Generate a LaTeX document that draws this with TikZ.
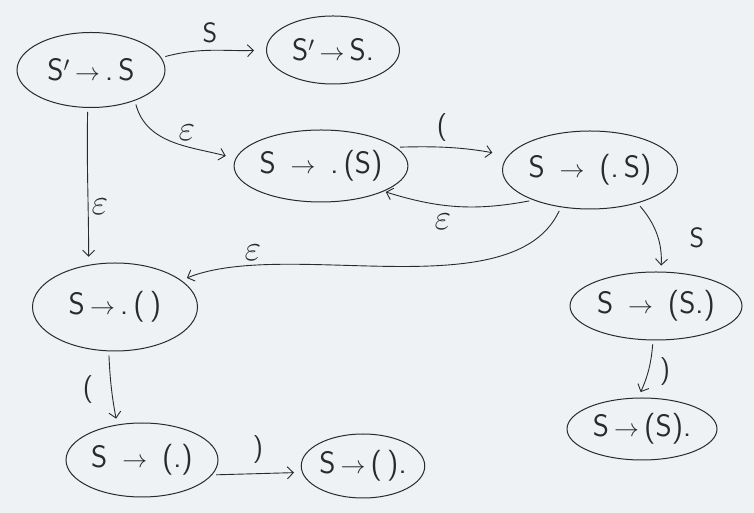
\documentclass[tikz,border=0pt]{standalone}
\usetikzlibrary{shapes.geometric,arrows.meta}
\definecolor{bg}{HTML}{EEF2F4}
\definecolor{ink}{HTML}{2A2A2A}
\newcommand{\ar}{\,$\rightarrow$\,}
\newcommand{\epsl}{\scalebox{1.45}{$\varepsilon$}}
\begin{document}
\begin{tikzpicture}[x=1pt,y=1pt,
  state/.style={ellipse,draw=ink,line width=1pt,inner sep=0pt,text=ink,
    font=\sffamily\fontsize{31}{34}\selectfont},
  tr/.style={draw=ink,line width=0.9pt,-{Straight Barb[length=6pt,width=12pt]},
    shorten <=4pt,shorten >=6pt},
  lab/.style={text=ink,font=\sffamily\fontsize{28}{30}\selectfont,inner sep=0pt}]
\fill[bg] (0,0) rectangle (754,513);
\useasboundingbox (0,0) rectangle (754,513);
% states
\node[state,minimum width=148,minimum height=75] (n1) at (91,443) {S$'$\ar.\,S};
\node[state,minimum width=133,minimum height=68] (n2) at (333,463) {S$'$\ar S.};
\node[state,minimum width=172,minimum height=72] (n3) at (321,347) {S\ \ar\ .\,(S)};
\node[state,minimum width=175,minimum height=78] (n4) at (590,343) {S\ \ar\ (.\,S)};
\node[state,minimum width=165,minimum height=88] (n5) at (115,206) {S\ar.\,(\,)};
\node[state,minimum width=172,minimum height=68] (n6) at (656,207) {S\ \ar\ (S.)};
\node[state,minimum width=150,minimum height=62] (n7) at (642,84) {S\ar(S).};
\node[state,minimum width=152,minimum height=74] (n8) at (142,53) {S\ \ar\ (.)};
\node[state,minimum width=117,minimum height=64] (n9) at (363,47) {S\ar(\,).};
% transitions
\draw[tr,shorten >=12pt] (n1.10) to[out=15,in=182] (n2.west);
\draw[tr,shorten >=10pt] (n1.-35) to[out=-75,in=165] (n3.175);
\draw[tr,shorten >=8pt] (n1.265) to[out=-91,in=90] (n5.122);
\draw[tr,shorten >=16pt] (n3.14) to[bend left=6] (n4.170);
\draw[tr,shorten >=2pt] (n4.208) to[bend left=14] (n3.-22);
\draw[tr] (n4.232) to[out=-115,in=22,looseness=0.75] (n5.22);
\draw[tr] (n4.-35) to[bend left=22] (n6.82);
\draw[tr] (n6.-95) to[bend left=10] (n7.97);
\draw[tr] (n5.262) to[bend right=4] (n8.125);
\draw[tr,shorten >=8pt] (n8.-12) to (n9.186);
% labels
\node[lab] (l12) at (210,480) {S};
\node[lab] (l13) at (187,380) {\epsl};
\node[lab] (l15) at (100,306) {\epsl};
\node[lab] (l34) at (442,385) {(};
\node[lab] (l43) at (443,291) {\epsl};
\node[lab] (l45) at (253,260) {\epsl};
\node[lab] (l46) at (697,275) {S};
\node[lab] (l67) at (665,141) {)};
\node[lab] (l58) at (88,123) {(};
\node[lab] (l89) at (258,63) {)};
\end{tikzpicture}
\end{document}
